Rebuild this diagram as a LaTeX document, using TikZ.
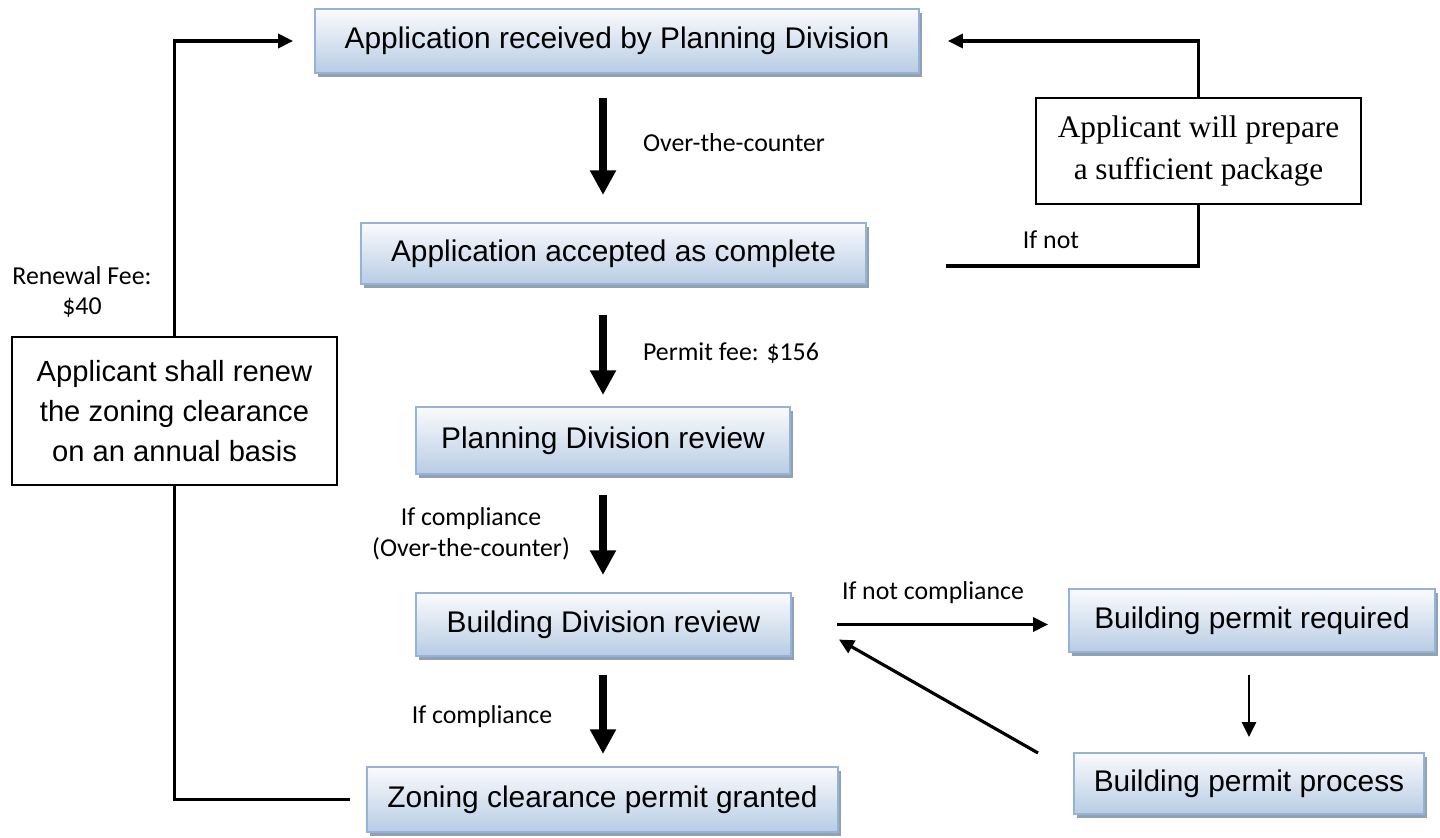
\documentclass[tikz,border=0pt]{standalone}
\usepackage{fontspec}
\setmainfont{Liberation Sans}
\newfontfamily\lblfont{Carlito}
\newfontfamily\serfont{Liberation Serif}
\usetikzlibrary{arrows.meta,shadows}
\definecolor{boxtop}{RGB}{250,251,253}
\definecolor{boxbot}{RGB}{184,204,228}
\definecolor{boxline}{RGB}{149,179,215}
\definecolor{boxshadow}{RGB}{145,160,178}

\begin{document}
\begin{tikzpicture}[x=0.02cm, y=-0.02cm,
        proc/.style={draw=boxline, line width=1.1pt, top color=boxtop, bottom color=boxbot,
          inner sep=0pt, outer sep=0pt, font=\fontsize{17}{23}\selectfont,
          drop shadow={shadow xshift=1.8pt, shadow yshift=-2.2pt, fill=boxshadow, opacity=1}},
        note/.style={draw, line width=0.8pt, fill=white, inner sep=0pt, outer sep=0pt, align=center},
        lbl/.style={font=\lblfont\fontsize{14.7}{17.5}\selectfont, align=center, inner sep=0pt},
        bigarr/.style={-{Triangle[length=14pt, width=14pt]}, line width=4pt},
        arr/.style={-{Triangle[length=8.5pt, width=8pt]}, line width=1.8pt},
      ]
        \useasboundingbox (0,0) rectangle (1440,838);

        \node[proc, minimum width=12.08cm, minimum height=1.28cm] (app)   at (617,41)      {Application received by Planning Division};
        \node[proc, minimum width=10.1cm,  minimum height=1.22cm] (acc)   at (613.5,253.5) {Application accepted as complete};
        \node[proc, minimum width=7.48cm,  minimum height=1.34cm] (pdr)   at (603,440.5)   {Planning Division review};
        \node[proc, minimum width=7.5cm,   minimum height=1.26cm] (bdr)   at (603.5,624.5) {Building Division review};
        \node[proc, minimum width=9.42cm,  minimum height=1.3cm]  (zon)   at (602.5,799.5) {Zoning clearance permit granted};
        \node[proc, minimum width=7.32cm,  minimum height=1.26cm] (bpr)   at (1252,620.5)  {Building permit required};
        \node[proc, minimum width=7.0cm,   minimum height=1.22cm] (bproc) at (1249,783.5)  {Building permit process};

        \node[note, minimum width=6.5cm, minimum height=2.96cm, font=\fontsize{16.6}{23}\selectfont] (renew) at (174.5,411)
          {Applicant shall renew\\the zoning clearance\\on an annual basis};
        \node[note, minimum width=6.5cm, minimum height=2.12cm, font=\serfont\fontsize{17.8}{23.5}\selectfont] (prep) at (1198.5,151)
          {Applicant will prepare\\a sufficient package};

        % Main flow
        \draw[bigarr, shorten <=0.5cm,  shorten >=0.56cm] (app.south -| pdr) -- (acc.north -| pdr);
        \draw[bigarr, shorten <=0.62cm, shorten >=0.24cm] (acc.south -| pdr) -- (pdr.north);
        \draw[bigarr, shorten <=0.42cm, shorten >=0.36cm] (pdr.south) -- (bdr.north -| pdr);
        \draw[bigarr, shorten <=0.38cm, shorten >=0.26cm] (bdr.south -| pdr) -- (zon.north -| pdr);

        % Building permit branch
        \draw[arr, shorten <=0.92cm, shorten >=0.42cm] (bdr.east) -- (bdr.east -| bpr.west);
        \draw[arr, line width=1.5pt, shorten <=0.46cm, shorten >=0.32cm] (bpr.south -| bproc) -- (bproc.north);
        \draw[arr] ([xshift=-0.72cm]bproc.north west) -- ([xshift=0.96cm, yshift=-0.3cm]bdr.east);

        % Loops back to the start
        \draw[line width=1.8pt, shorten <=1.6cm] ([yshift=-0.25cm]acc.east) -| (prep.south);
        \draw[arr, shorten >=0.58cm] (prep.north) |- (app.east);
        \draw[line width=1.8pt, shorten <=0.34cm] (zon.west) -| (renew.south);
        \draw[arr, shorten >=0.44cm] (renew.north) |- (app.west);

        % Labels
        \node[lbl] (lover)   at (734,143)  {Over-the-counter};
        \node[lbl] (lfee)    at (731,353)  {Permit fee: \$156};
        \node[lbl] (lcomp)   at (471,534)  {If compliance\\(Over-the-counter)};
        \node[lbl] (lcomp2)  at (482,717)  {If compliance};
        \node[lbl] (lnotc)   at (933,593)  {If not compliance};
        \node[lbl] (lnot)    at (1051,240) {If not};
        \node[lbl] (lrenew)  at (82,292)   {Renewal Fee:\\\$40};
      \end{tikzpicture}
\end{document}
